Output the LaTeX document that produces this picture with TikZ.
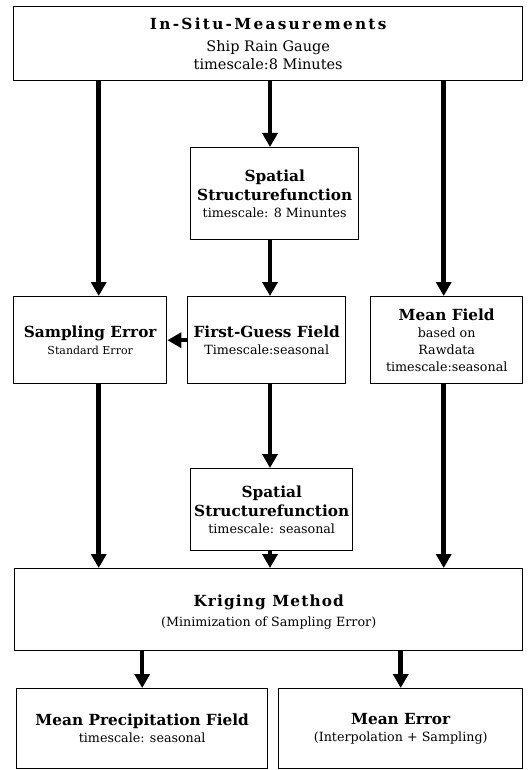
\documentclass[tikz,border=0pt]{standalone}
\usepackage{fontspec}
\setmainfont{DejaVu Serif}
\usetikzlibrary{arrows.meta}
\tikzset{
  box/.style={draw,line width=1.4pt,anchor=north west,inner sep=0pt,align=center,
    font=\fontsize{12.7}{17}\selectfont},
  arr/.style={line width=4.5pt,-{Triangle[width=15pt,length=14pt]}},
}
\newcommand\hd[1]{{\fontsize{15.3}{19}\selectfont\bfseries #1}}
\newcommand\sm[1]{{\fontsize{11}{14}\selectfont #1}}
\begin{document}
\begin{tikzpicture}[x=1pt,y=-1pt]
  \useasboundingbox (0,0) rectangle (530,770);
  \coordinate (mid) at (270,0);
  % boxes, top to bottom
  \node[box,font=\fontsize{14.5}{18}\selectfont,minimum width=509pt,minimum height=74pt] (insitu) at (13,6)
    {\hd{\addfontfeature{LetterSpace=15}In-Situ-Measurements}\\[4pt]
     Ship Rain Gauge\\timescale:8 Minutes};
  \node[box,minimum width=168pt,minimum height=92pt] (spatialA) at (190,147)
    {\hd{Spatial}\\[2pt]\hd{Structurefunction}\\timescale: 8 Minuntes};
  \node[box,minimum width=153pt,minimum height=87pt] (sampling) at (13,296)
    {\hd{Sampling Error}\\\sm{Standard Error}};
  \node[box,minimum width=158pt,minimum height=87pt] (firstguess) at (187,296)
    {\hd{First-Guess Field}\\Timescale:seasonal};
  \node[box,minimum width=152pt,minimum height=87pt] (meanfield) at (370,296)
    {\hd{Mean Field}\\based on\\Rawdata\\timescale:seasonal};
  \node[box,minimum width=162pt,minimum height=82pt] (spatialB) at (190,468)
    {\hd{Spatial}\\[2pt]\hd{Structurefunction}\\timescale: seasonal};
  \node[box,minimum width=508pt,minimum height=82pt] (kriging) at (14,568)
    {\\[-1pt]\hd{\addfontfeature{LetterSpace=7.5}Kriging Method}\\[3pt](Minimization of Sampling Error)};
  \node[box,minimum width=251pt,minimum height=80pt] (precip) at (16,688)
    {\hd{Mean Precipitation Field}\\timescale: seasonal};
  \node[box,minimum width=244pt,minimum height=80pt] (merror) at (278,688)
    {\hd{Mean Error}\\(Interpolation + Sampling)};
  % arrows
  \draw[arr] ([xshift=8.5pt]sampling.north |- insitu.south) -- ([xshift=8.5pt]sampling.north);
  \draw[arr] (insitu.south -| mid) -- (spatialA.north -| mid);
  \draw[arr] ([xshift=-3pt]meanfield.north |- insitu.south) -- ([xshift=-3pt]meanfield.north);
  \draw[arr] (spatialA.south -| mid) -- (firstguess.north -| mid);
  \draw[arr] (firstguess.west) -- (sampling.east);
  \draw[arr] (firstguess.south -| mid) -- (spatialB.north -| mid);
  \draw[arr] ([xshift=8.5pt]sampling.south) -- ([xshift=8.5pt]sampling.south |- kriging.north);
  \draw[arr] (spatialB.south -| mid) -- (kriging.north -| mid);
  \draw[arr] ([xshift=-3pt]meanfield.south) -- ([xshift=-3pt]meanfield.south |- kriging.north);
  \draw[arr] (kriging.south -| precip.north) -- (precip.north);
  \draw[arr] (kriging.south -| merror.north) -- (merror.north);
\end{tikzpicture}
\end{document}
